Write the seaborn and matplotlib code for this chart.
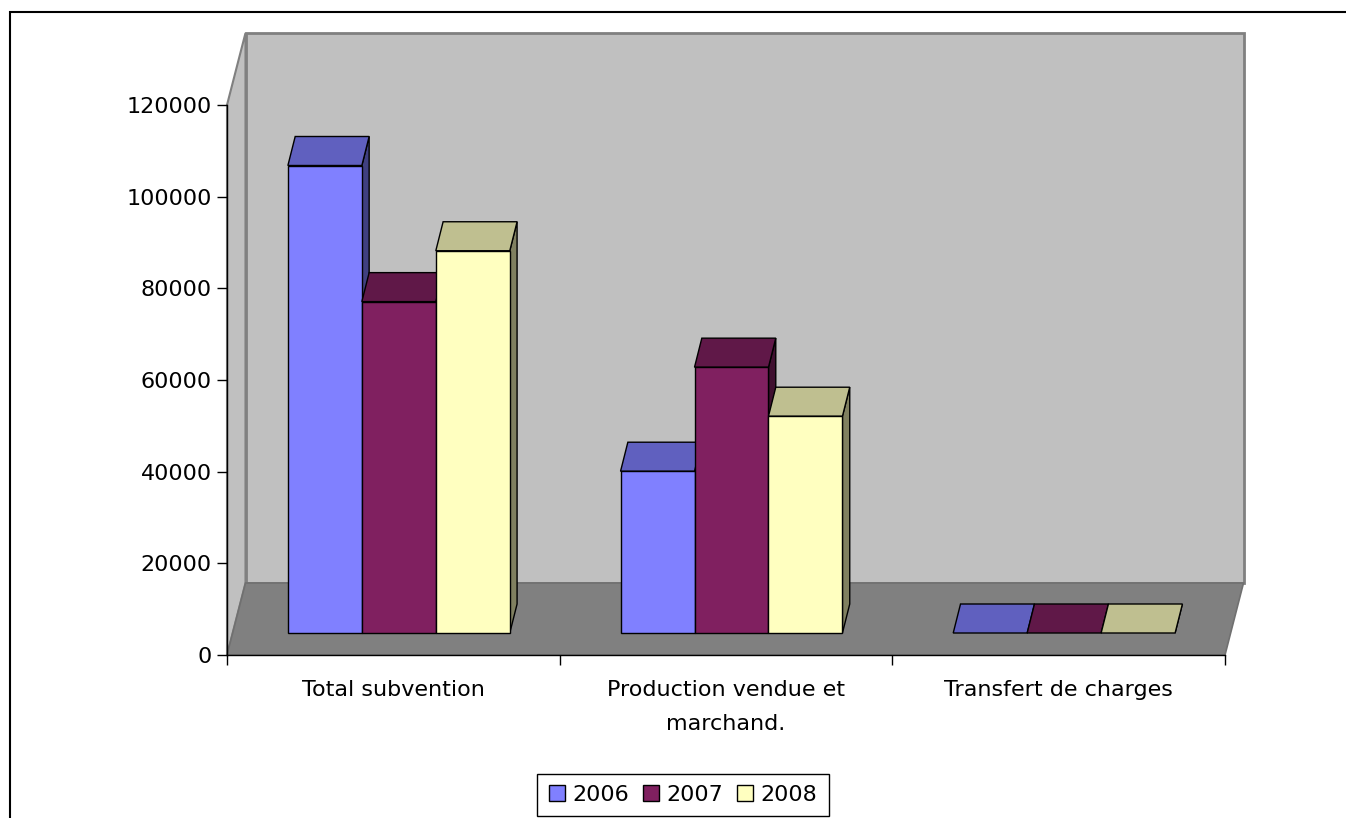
import numpy as np
import pandas as pd
import matplotlib
matplotlib.use("Agg")
import matplotlib.pyplot as plt
import seaborn as sns
from matplotlib.patches import Polygon, Rectangle, Patch
from matplotlib.transforms import offset_copy, IdentityTransform

# ---- data ----
categories = ["Total subvention", "Production vendue et\nmarchand.", "Transfert de charges"]
years = ["2006", "2007", "2008"]
values_2006 = [102000, 35300, 0]
values_2007 = [72300, 58000, 0]
values_2008 = [83400, 47300, 0]
yticks = [0, 20000, 40000, 60000, 80000, 100000, 120000]

front_colors = ["#8080FF", "#802060", "#FFFFC0"]
top_colors = ["#6060BF", "#601848", "#BFBF90"]
side_colors = ["#404080", "#401030", "#808060"]

rows = []
for yr, vals in zip(years, [values_2006, values_2007, values_2008]):
    for c, v in zip(categories, vals):
        rows.append({"category": c, "year": yr, "value": v})
df = pd.DataFrame(rows)

sns.set_style("white")
plt.rcParams["font.family"] = ["DejaVu Sans"]
plt.rcParams["text.color"] = "black"
plt.rcParams["xtick.color"] = "black"
plt.rcParams["ytick.color"] = "black"
plt.rcParams["xtick.labelcolor"] = "black"
plt.rcParams["ytick.labelcolor"] = "black"

W, H, DPI = 1346, 818, 100
fig = plt.figure(figsize=(W / DPI, H / DPI), dpi=DPI)
fig.patch.set_facecolor("white")
ax = fig.add_axes([227 / W, 1 - 655 / H, (1225 - 227) / W, (655 - 105) / H])
ax.set_facecolor("none")

sns.barplot(data=df, x="category", y="value", hue="year", order=categories,
            hue_order=years, palette=front_colors, width=0.667, saturation=1,
            edgecolor="black", linewidth=1, errorbar=None, legend=False, ax=ax)

ax.set_xlim(-0.5, 2.5)
ax.set_ylim(0, 120000)
ax.set_xlabel("")
ax.set_ylabel("")

fig.canvas.draw()

# ---- 3D walls ----
Dx, Dy = 18.5, 72.0
P0 = ax.transData.transform((-0.5, 0))
P1 = ax.transData.transform((2.5, 0))
P2 = ax.transData.transform((-0.5, 120000))
D = np.array([Dx, Dy])
ident = IdentityTransform()

back = Polygon([P0 + D, [P1[0] + Dx, P0[1] + Dy], [P1[0] + Dx, P2[1] + Dy], [P0[0] + Dx, P2[1] + Dy]],
               closed=True, facecolor="#C0C0C0", edgecolor="#808080", linewidth=2,
               transform=ident, zorder=0.2, clip_on=False)
left = Polygon([P0, P2, P2 + D, P0 + D], closed=True, facecolor="#C0C0C0",
               edgecolor="#808080", linewidth=1.5, transform=ident, zorder=0.3, clip_on=False)
floor = Polygon([P0, P1, P1 + D, P0 + D], closed=True, facecolor="#808080",
                edgecolor="#707070", linewidth=1.2, transform=ident, zorder=0.4, clip_on=False)
for p in (back, left, floor):
    ax.add_patch(p)

# ---- 3D bars ----
fx, fy = 5.5, 22.0      # front-face offset into depth
dx, dy = 7.3, 29.0      # bar depth
front_tr = offset_copy(ax.transData, fig=fig, x=fx, y=fy, units="dots")
for h, cont in enumerate(ax.containers):
    for bar in cont:
        x0, w, hgt = bar.get_x(), bar.get_width(), bar.get_height()
        X0, Y0 = ax.transData.transform((x0, 0)) + [fx, fy]
        X1, Y1 = ax.transData.transform((x0 + w, hgt)) + [fx, fy]
        z = 2 + h * 0.1
        side = Polygon([[X1, Y0], [X1 + dx, Y0 + dy], [X1 + dx, Y1 + dy], [X1, Y1]],
                       closed=True, facecolor=side_colors[h], edgecolor="black",
                       linewidth=1, transform=ident, zorder=z, clip_on=False)
        top = Polygon([[X0, Y1], [X1, Y1], [X1 + dx, Y1 + dy], [X0 + dx, Y1 + dy]],
                      closed=True, facecolor=top_colors[h], edgecolor="black",
                      linewidth=1, transform=ident, zorder=z, clip_on=False)
        ax.add_patch(side)
        ax.add_patch(top)
        bar.set_transform(front_tr)
        bar.set_zorder(z + 0.05)
        bar.set_clip_on(False)
        if hgt == 0:
            bar.set_visible(False)

# ---- axes styling ----
for s in ("top", "right"):
    ax.spines[s].set_visible(False)
for s in ("left", "bottom"):
    ax.spines[s].set_color("black")
    ax.spines[s].set_linewidth(1)
    ax.spines[s].set_zorder(5)

ax.set_yticks(yticks)
ax.set_yticklabels([str(v) for v in yticks])
ax.tick_params(axis="y", direction="out", length=7, width=1, pad=4,
               labelsize=16, colors="black", labelcolor="black", left=True)
ax.set_xticks([-0.5, 0.5, 1.5, 2.5])
ax.set_xticklabels([])
ax.tick_params(axis="x", which="major", direction="out", length=7.2, width=1,
               colors="black", bottom=True)
ax.set_xticks([0, 1, 2], minor=True)
ax.set_xticklabels(categories, minor=True, fontsize=16, linespacing=1.85, color="black")
ax.tick_params(axis="x", which="minor", length=0, pad=18, labelcolor="black")
ax.grid(False)

# ---- legend ----
handles = [Patch(facecolor=c, edgecolor="black", linewidth=1) for c in front_colors]
leg = fig.legend(handles, years, loc="upper center", bbox_to_anchor=(683 / W, 1 - 774 / H),
                 ncol=3, frameon=True, fancybox=False, edgecolor="black", framealpha=1,
                 fontsize=16, handlelength=0.72, handleheight=0.72, handletextpad=0.36,
                 columnspacing=0.6, borderpad=0.5, borderaxespad=0)
leg.get_frame().set_linewidth(1)
for t in leg.get_texts():
    t.set_color("black")

# ---- outer frame ----
fig.patches.append(Rectangle((9.7 / W, -0.5), 2, 0.5 + 1 - 11.5 / H, transform=fig.transFigure,
                             fill=False, edgecolor="black", linewidth=1.5, zorder=0))

fig.savefig("out.png", dpi=DPI)
